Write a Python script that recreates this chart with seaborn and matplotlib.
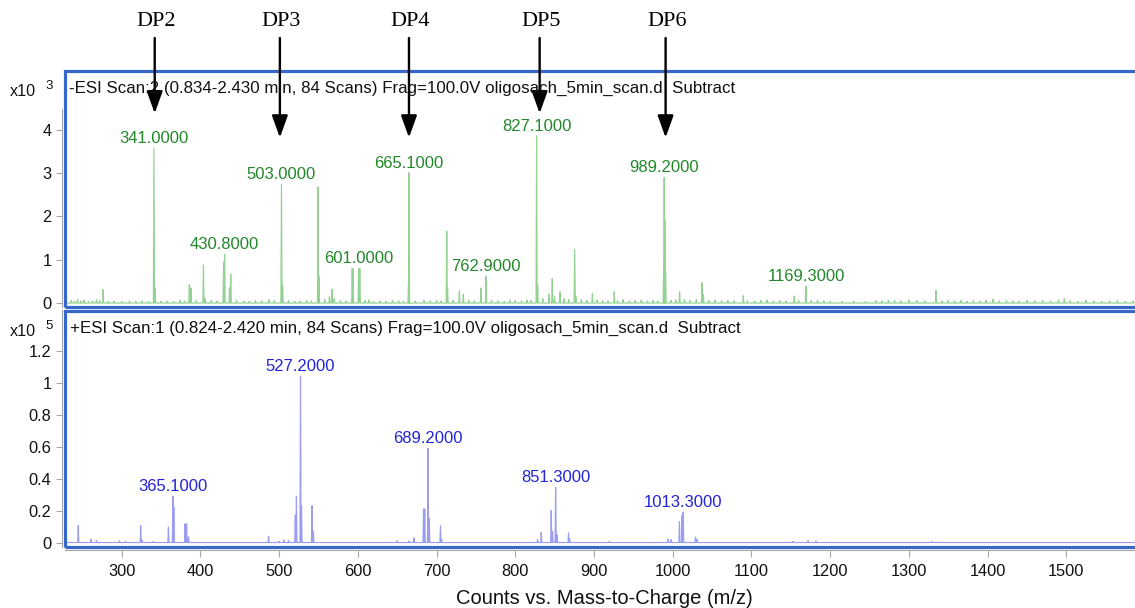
import numpy as np
import pandas as pd
import matplotlib
matplotlib.use("Agg")
import matplotlib.pyplot as plt
import seaborn as sns
from matplotlib.patches import Rectangle
from matplotlib.transforms import blended_transform_factory

# ---------------- data ----------------
# -ESI spectrum (counts)
neg_mz = [236, 240, 244, 248, 252, 258, 263, 268, 272, 276.5, 283, 290, 300, 310, 318, 326, 334,
          341.0, 342.5, 350, 358, 366, 374, 380, 386, 388, 395, 403.9, 406, 414, 421,
          429.5, 430.8, 437, 438.6, 446, 455, 462, 470, 478, 487, 494,
          503.0, 504.5, 512, 520, 527, 535, 541, 549.5, 550.5, 558, 564, 567.3, 570, 578, 585,
          592.9, 594, 601.0, 602.5, 609, 614, 620, 628, 636, 644, 652, 658,
          664.5, 665.1, 673, 684, 692, 700, 706, 713, 714, 721, 729, 734, 741, 748,
          756.4, 762.9, 770, 778, 786, 793, 800, 808, 815, 820,
          827.1, 828.5, 835, 842.8, 847, 850, 856.8, 862, 868, 875.5, 877, 884, 891, 898, 904, 911, 918,
          925.8, 930, 937, 945, 952, 960, 968, 975, 981,
          988.5, 989.2, 990, 991, 998, 1004, 1008.8, 1015, 1022, 1030, 1037.3, 1039, 1046, 1054, 1062,
          1070, 1078, 1089.7, 1095, 1104, 1112, 1120, 1128, 1136, 1144, 1154.4, 1160, 1169.3, 1176,
          1184, 1192, 1200, 1215, 1230, 1245, 1258, 1266, 1274, 1282, 1290, 1300, 1310, 1320, 1334.5,
          1342, 1350, 1358, 1366, 1374, 1382, 1390, 1398, 1407, 1415, 1424, 1432, 1440, 1450, 1460,
          1470, 1480, 1490, 1497.5, 1505, 1515, 1525, 1535, 1545, 1555, 1565, 1575, 1585]
neg_counts = [60, 40, 90, 50, 70, 40, 50, 80, 60, 310, 40, 50, 40, 50, 40, 50, 40,
              3580, 350, 40, 50, 40, 60, 50, 430, 350, 60, 880, 100, 60, 50,
              950, 1130, 350, 670, 60, 50, 40, 60, 50, 80, 60,
              2740, 410, 60, 40, 50, 60, 50, 2680, 620, 80, 150, 320, 100, 60, 50,
              800, 780, 800, 790, 60, 70, 40, 50, 40, 60, 50, 40,
              580, 3010, 50, 60, 50, 60, 50, 1660, 350, 60, 280, 200, 60, 50,
              350, 620, 60, 50, 40, 70, 60, 50, 70, 60,
              3860, 410, 100, 200, 560, 150, 260, 100, 80, 1240, 150, 80, 60, 220, 70, 60, 50,
              260, 60, 80, 50, 60, 70, 50, 60, 50,
              700, 2900, 1930, 700, 60, 70, 260, 80, 60, 80, 470, 200, 60, 70, 50,
              60, 50, 170, 60, 50, 60, 70, 50, 60, 50, 160, 60, 390, 60,
              70, 50, 40, 40, 50, 40, 60, 50, 70, 60, 50, 70, 60, 50, 290,
              50, 60, 50, 60, 40, 60, 50, 60, 90, 50, 60, 50, 40, 60, 50,
              60, 50, 70, 100, 50, 40, 60, 50, 40, 50, 60, 40, 50]
neg_labels = [341.0, 430.8, 503.0, 601.0, 665.1, 762.9, 827.1, 989.2, 1169.3]

# +ESI spectrum (counts)
pos_mz = [244.9, 261, 268, 297, 305, 324.2, 326, 340, 359.4, 365.1, 366.3, 380.5, 382.5, 385,
          486.7, 500, 506, 512, 520.6, 522, 527.2, 528.5, 541.9, 543.5,
          650, 665, 671.3, 683.5, 685, 689.2, 690.8, 705, 706.5,
          828.3, 833, 845.7, 847.4, 851.3, 853, 867.7, 869, 919.6,
          994, 998, 1008.6, 1012, 1013.3, 1029, 1031, 1153, 1172, 1182, 1330]
pos_counts = [10600, 2000, 1200, 1000, 800, 10600, 1500, 600, 9600, 29000, 22000, 11700, 11700, 3500,
              4000, 800, 1500, 1200, 17000, 29000, 104000, 23000, 23000, 7000,
              1000, 1000, 3000, 21000, 21000, 59000, 15000, 10600, 2000,
              2000, 6500, 20000, 7000, 34500, 5000, 6000, 2500, 800,
              2000, 1800, 13000, 17000, 19000, 3300, 2000, 800, 1200, 800, 700]
pos_labels = [365.1, 527.2, 689.2, 851.3, 1013.3]

dp_names = ["DP2", "DP3", "DP4", "DP5", "DP6"]
dp_mz = [342, 501, 665, 831, 991]
dp_tip_counts = [4380, 3820, 3820, 4380, 3820]

neg_title = "-ESI Scan:2 (0.834-2.430 min, 84 Scans) Frag=100.0V oligosach_5min_scan.d  Subtract"
pos_title = "+ESI Scan:1 (0.824-2.420 min, 84 Scans) Frag=100.0V oligosach_5min_scan.d  Subtract"
x_ticks = [300, 400, 500, 600, 700, 800, 900, 1000, 1100, 1200, 1300, 1400, 1500]
neg_yticks = [0, 1000, 2000, 3000, 4000]
pos_yticks = [0, 20000, 40000, 60000, 80000, 100000, 120000]
x_range = (227.4, 1600)

# ---------------- style ----------------
sns.set_theme(style="white")
plt.rcParams["font.family"] = ["Liberation Sans", "DejaVu Sans"]

W, H = 1135, 608
fig = plt.figure(figsize=(W / 100, H / 100), dpi=100)


def rect(l, t, r, b):
    return [l / W, 1 - b / H, (r - l) / W, (b - t) / H]


def profile(mz, counts, w=0.7):
    order = np.argsort(mz)
    xs, ys = [x_range[0]], [0]
    for i in order:
        xs += [mz[i] - w, mz[i], mz[i] + w]
        ys += [0, counts[i], 0]
    xs.append(x_range[1])
    ys.append(0)
    return pd.DataFrame({"mz": xs, "counts": ys})


ax1 = fig.add_axes(rect(64.5, 70.5, 1145, 306.5))
ax2 = fig.add_axes(rect(64.5, 310.5, 1145, 547))

frame_col = "#3668c9"
grey = "#a6a6a6"

sns.lineplot(data=profile(neg_mz, neg_counts), x="mz", y="counts", sort=False, estimator=None,
             color="#93d293", lw=0.85, ax=ax1, legend=False)
sns.lineplot(data=profile(pos_mz, pos_counts), x="mz", y="counts", sort=False, estimator=None,
             color="#9c9cf0", lw=0.85, ax=ax2, legend=False)

ax1.set_xlim(*x_range)
ax2.set_xlim(*x_range)
ax1.set_ylim(-80, 5370)
ax2.set_ylim(-2800, 145000)

for ax in (ax1, ax2):
    for s in ax.spines.values():
        s.set_visible(False)
    ax.spines["left"].set_visible(True)
    ax.spines["left"].set_color(grey)
    ax.spines["left"].set_linewidth(0.8)
    ax.spines["left"].set_position(("outward", 2))
    ax.add_patch(Rectangle((0, 0), 1, 1, transform=ax.transAxes, fill=False,
                           ec=frame_col, lw=2.3, clip_on=False, zorder=6))
    ax.set_ylabel("")
    ax.set_xlabel("")
    ax.tick_params(axis="y", left=True, direction="out", length=4.5, width=0.8,
                   color=grey, pad=3, labelsize=11.8, labelcolor="#111111")

ax1.spines["left"].set_bounds(-80, 4480)
ax2.spines["bottom"].set_visible(True)
ax2.spines["bottom"].set_color(grey)
ax2.spines["bottom"].set_linewidth(0.8)
ax2.spines["bottom"].set_position(("outward", 2))

ax1.set_xticks([])
ax2.set_xticks(x_ticks)
ax2.set_xticklabels([str(v) for v in x_ticks])
ax2.tick_params(axis="x", bottom=True, direction="out", length=5, width=0.8, color=grey,
                pad=5, labelsize=11.8, labelcolor="#111111")

ax1.set_yticks(neg_yticks)
ax1.set_yticklabels([f"{v / 1e3:g}" for v in neg_yticks])
ax2.set_yticks(pos_yticks)
ax2.set_yticklabels([f"{v / 1e5:g}" for v in pos_yticks])

ax2.set_xlabel("Counts vs. Mass-to-Charge (m/z)", fontsize=14.5, color="#111111")
ax2.xaxis.set_label_coords(0.5, (547 - 598) / (547 - 310.5))
ax2.xaxis.label.set_va("center")

# scan titles and exponent labels
fig.text(69 / W, 1 - 88 / H, neg_title, fontsize=12.2, va="center", ha="left", color="#111111")
fig.text(70 / W, 1 - 328 / H, pos_title, fontsize=12.2, va="center", ha="left", color="#111111")
fig.text(10 / W, 1 - 91 / H, "x10", fontsize=11.6, va="center", ha="left", color="#111111")
fig.text(45.5 / W, 1 - 86 / H, "3", fontsize=9.5, va="center", ha="left", color="#111111")
fig.text(10 / W, 1 - 332 / H, "x10", fontsize=11.6, va="center", ha="left", color="#111111")
fig.text(45.5 / W, 1 - 326 / H, "5", fontsize=9.5, va="center", ha="left", color="#111111")


def label_peaks(ax, mz, counts, labels, color):
    mz = np.asarray(mz)
    counts = np.asarray(counts)
    for lab in labels:
        near = np.abs(mz - lab) < 1.0
        top = counts[near].max()
        ax.annotate(f"{lab:.4f}", xy=(lab, top), xytext=(0, 1.5), textcoords="offset points",
                    ha="center", va="bottom", fontsize=12, color=color, zorder=7)


label_peaks(ax1, neg_mz, neg_counts, neg_labels, "#22882a")
label_peaks(ax2, pos_mz, pos_counts, pos_labels, "#2323d8")

# DP arrows
blend = blended_transform_factory(ax1.transData, fig.transFigure)
for name, mz, tip in zip(dp_names, dp_mz, dp_tip_counts):
    ax1.annotate("", xy=(mz, tip), xycoords="data", xytext=(mz, 1 - 38 / H),
                 textcoords=("data", "figure fraction"),
                 arrowprops=dict(arrowstyle="-|>,head_length=0.75,head_width=0.27", color="black",
                                 lw=1.7, shrinkA=0, shrinkB=0, mutation_scale=18),
                 annotation_clip=False, zorder=8)
    ax1.text(mz + 1.5, 1 - 21 / H, name, transform=blend, ha="center", va="center",
             fontsize=16, family=["Liberation Serif", "DejaVu Serif"], color="black")

fig.savefig("out.png", dpi=100)
